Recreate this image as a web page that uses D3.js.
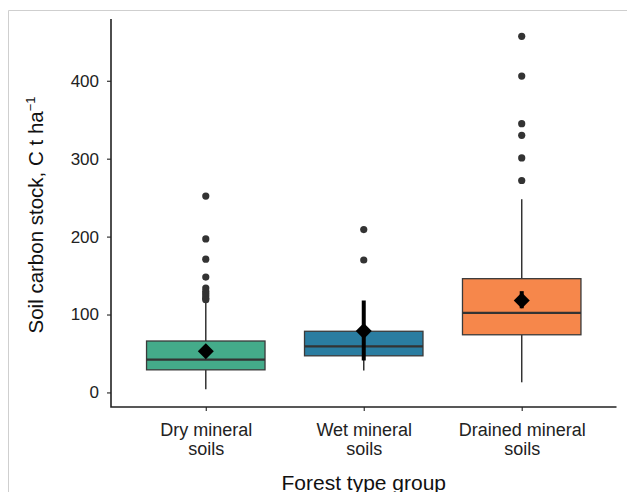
<!DOCTYPE html>
<html>
<head>
<meta charset="utf-8">
<script src="https://cdn.jsdelivr.net/npm/d3@7"></script>
<style>
  html, body { margin: 0; padding: 0; background: #fff; }
  svg { display: block; }
  text { font-family: "Liberation Sans", Arial, Helvetica, sans-serif; }
</style>
</head>
<body>
<svg id="chart" width="627" height="492"></svg>
<script>
// ---- data ----
const categories = ["Dry mineral soils", "Wet mineral soils", "Drained mineral soils"];
const categoryLines = [["Dry mineral", "soils"], ["Wet mineral", "soils"], ["Drained mineral", "soils"]];
const colors = ["#44AB8A", "#2A7DA1", "#F6874B"];
const q1 = [29, 47, 74];
const median = [42, 59, 102];
const q3 = [66, 78.5, 146];
const whiskerLow = [4, 28, 13];
const whiskerHigh = [115, 112, 248];
const means = [53, 79, 118];
const ciLow = [49, 41, 108];
const ciHigh = [57, 118, 130];
const outliersDry = [252, 197, 171, 148, 134, 130, 127, 124, 121, 119];
const outliersWet = [209, 170];
const outliersDrained = [457, 406, 345, 330, 301, 272];
const outliers = [outliersDry, outliersWet, outliersDrained];
const yTicks = [0, 100, 200, 300, 400];
const yTitle = "Soil carbon stock, C t ha";
const xTitle = "Forest type group";

// ---- layout ----
const svg = d3.select("#chart");
const mLeft = 111, mRight = 616.5, mTop = 19, mBottom = 407;

// screenshot frame
svg.append("path").attr("d", "M8.5,492 L8.5,10.5 L627,10.5")
  .attr("fill", "none").attr("stroke", "#cfcfcf").attr("stroke-width", 1);

const x = d3.scalePoint().domain(categories).range([mLeft, mRight]).padding(0.6);
const step = x.step();
const boxW = step * 0.75;
const y = d3.scaleLinear().domain([-18.7, 479.3]).range([mBottom, mTop]);

const data = categories.map((c, i) => ({
  c, i, q1: q1[i], med: median[i], q3: q3[i], lo: whiskerLow[i], hi: whiskerHigh[i],
  mean: means[i], ciLo: ciLow[i], ciHi: ciHigh[i], out: outliers[i], color: colors[i]
}));

const g = svg.append("g");

// whiskers
g.selectAll("line.wl").data(data).join("line")
  .attr("x1", d => x(d.c)).attr("x2", d => x(d.c))
  .attr("y1", d => y(d.q1)).attr("y2", d => y(d.lo))
  .attr("stroke", "#333").attr("stroke-width", 1.5);
g.selectAll("line.wh").data(data).join("line")
  .attr("x1", d => x(d.c)).attr("x2", d => x(d.c))
  .attr("y1", d => y(d.q3)).attr("y2", d => y(d.hi))
  .attr("stroke", "#333").attr("stroke-width", 1.5);

// boxes
g.selectAll("rect.box").data(data).join("rect")
  .attr("x", d => x(d.c) - boxW / 2).attr("width", boxW)
  .attr("y", d => y(d.q3)).attr("height", d => y(d.q1) - y(d.q3))
  .attr("fill", d => d.color).attr("stroke", "#3a3a3a").attr("stroke-width", 1.3);

// medians
g.selectAll("line.med").data(data).join("line")
  .attr("x1", d => x(d.c) - boxW / 2).attr("x2", d => x(d.c) + boxW / 2)
  .attr("y1", d => y(d.med)).attr("y2", d => y(d.med))
  .attr("stroke", "#333").attr("stroke-width", 2.2);

// outliers
data.forEach(d => {
  g.append("g").selectAll("circle").data(d.out).join("circle")
    .attr("cx", x(d.c)).attr("cy", v => y(v)).attr("r", 3.6)
    .attr("fill", "#333");
});

// mean CI bars
g.selectAll("line.ci").data(data).join("line")
  .attr("x1", d => x(d.c)).attr("x2", d => x(d.c))
  .attr("y1", d => y(d.ciLo)).attr("y2", d => y(d.ciHi))
  .attr("stroke", "#000").attr("stroke-width", 4);

// mean diamonds
const dm = 8;
g.selectAll("path.mean").data(data).join("path")
  .attr("d", d => {
    const cx = x(d.c), cy = y(d.mean);
    return `M${cx},${cy - dm} L${cx + dm},${cy} L${cx},${cy + dm} L${cx - dm},${cy} Z`;
  })
  .attr("fill", "#000");

// axes
const yAxis = svg.append("g").attr("transform", `translate(${mLeft},0)`)
  .call(d3.axisLeft(y).tickValues(yTicks).tickSize(4).tickSizeOuter(0).tickPadding(8));
yAxis.select(".domain").remove();
yAxis.selectAll(".tick line").attr("stroke", "#333").attr("stroke-width", 1.2);
yAxis.selectAll(".tick text").attr("font-size", 17).attr("fill", "#222")
  .attr("font-family", "'Liberation Sans', Arial, sans-serif");

const xAxis = svg.append("g").attr("transform", `translate(0,${mBottom})`)
  .call(d3.axisBottom(x).tickSize(4).tickSizeOuter(0).tickFormat(""));
xAxis.select(".domain").remove();
xAxis.selectAll(".tick line").attr("stroke", "#333").attr("stroke-width", 1.2);
xAxis.selectAll(".tick").each(function (d, i) {
  const t = d3.select(this).append("text")
    .attr("text-anchor", "middle").attr("font-size", 18).attr("fill", "#222")
    .attr("font-family", "'Liberation Sans', Arial, sans-serif");
  categoryLines[i].forEach((ln, k) => {
    t.append("tspan").attr("x", 0).attr("y", 28.5 + k * 19).text(ln);
  });
});

// axis lines
svg.append("path")
  .attr("d", `M${mLeft},${y.range()[1]} L${mLeft},${mBottom} L${mRight},${mBottom}`)
  .attr("fill", "none").attr("stroke", "#222").attr("stroke-width", 1.6);

// titles
svg.append("text")
  .attr("x", (mLeft + mRight) / 2).attr("y", 489.5)
  .attr("text-anchor", "middle").attr("font-size", 21).attr("fill", "#111")
  .text(xTitle);

const yt = svg.append("text")
  .attr("transform", `translate(43,${(mTop + mBottom) / 2 + 2}) rotate(-90)`)
  .attr("text-anchor", "middle").attr("font-size", 20.5).attr("fill", "#111");
yt.append("tspan").text(yTitle);
yt.append("tspan").attr("font-size", 13).attr("dy", -8).text("\u22121");
</script>
</body>
</html>
